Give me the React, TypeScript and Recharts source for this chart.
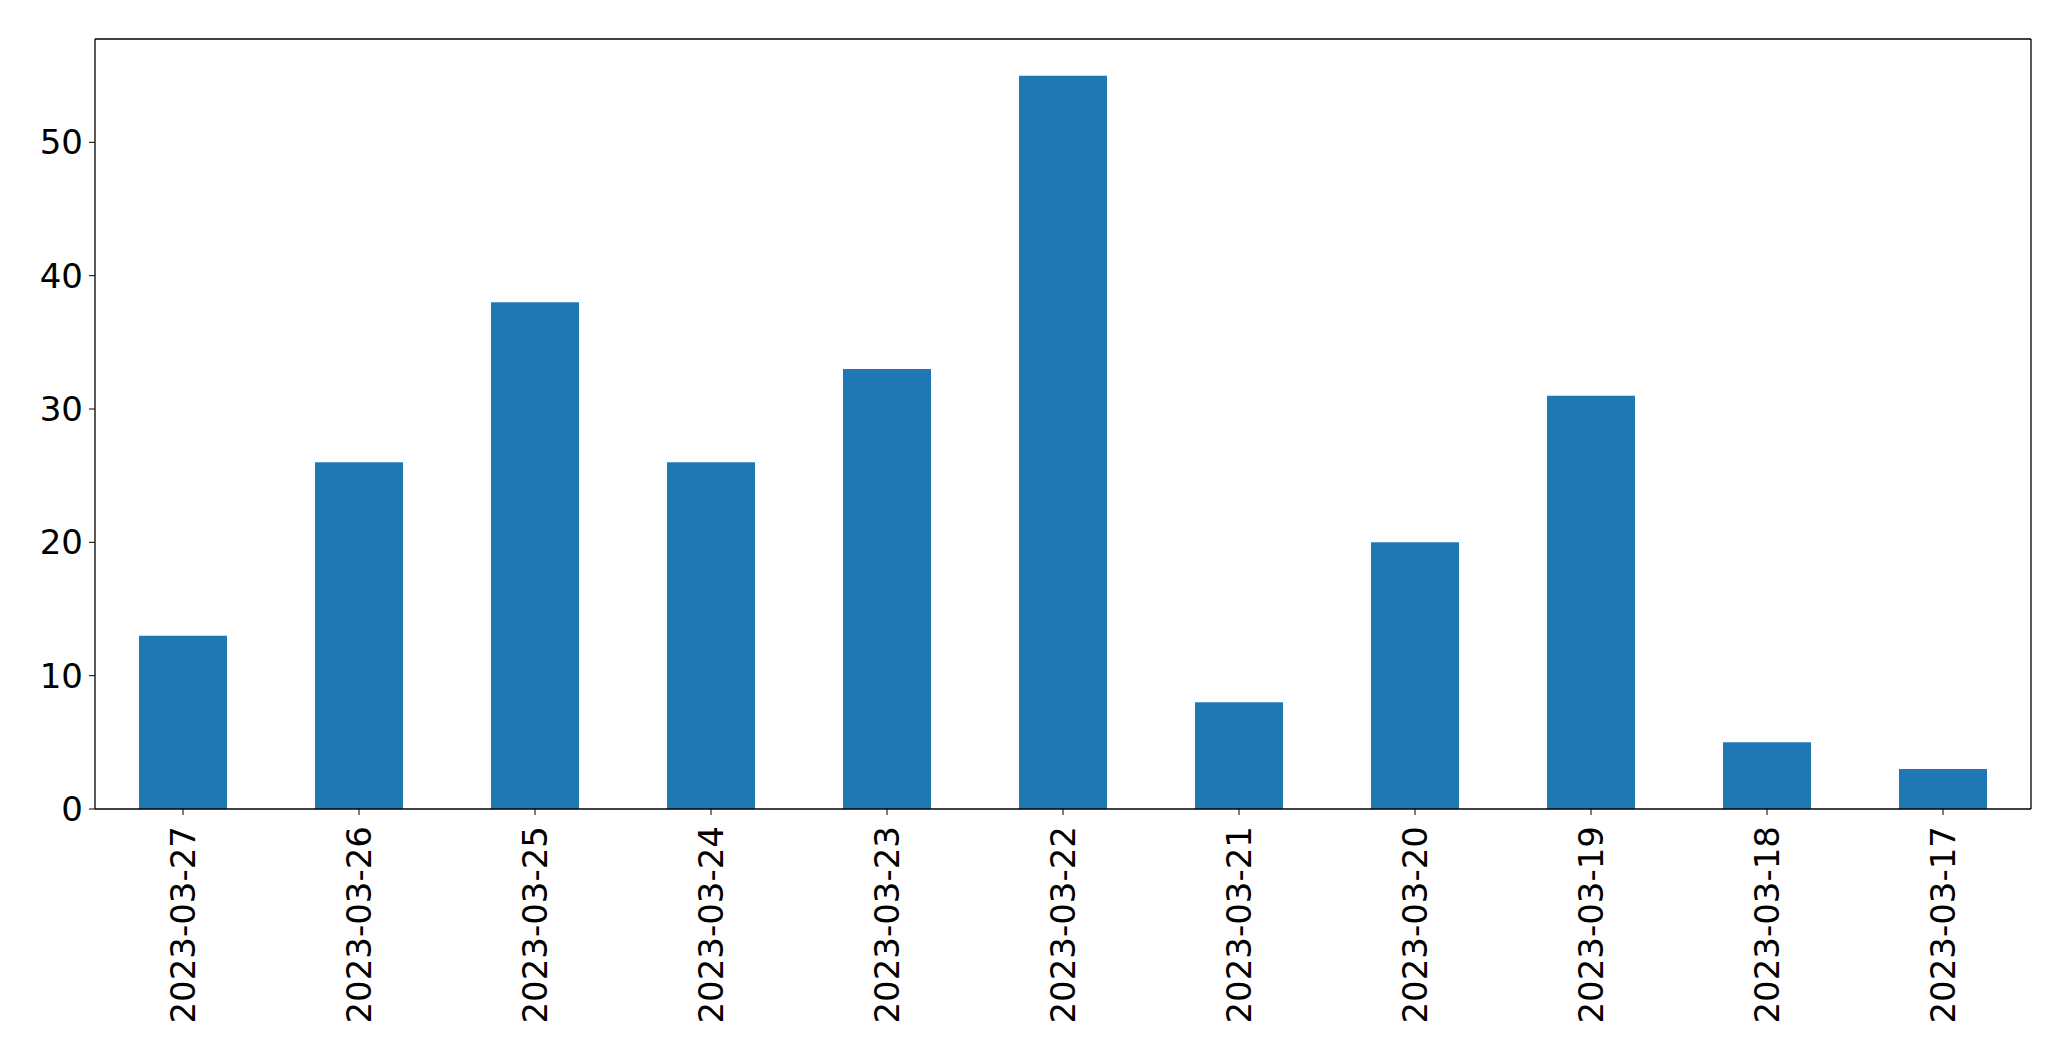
import { Bar, BarChart, XAxis, YAxis } from "recharts";

const dates = [
  "2023-03-27",
  "2023-03-26",
  "2023-03-25",
  "2023-03-24",
  "2023-03-23",
  "2023-03-22",
  "2023-03-21",
  "2023-03-20",
  "2023-03-19",
  "2023-03-18",
  "2023-03-17",
];
const counts = [13, 26, 38, 26, 33, 55, 8, 20, 31, 5, 3];
const yTicks = [0, 10, 20, 30, 40, 50];

const data = dates.map((d, i) => ({ date: d, count: counts[i] }));

const FONT = "'DejaVu Sans', sans-serif";

// rotated date labels under the x axis
function DateTick(props: any) {
  const { x, y, payload } = props;
  return (
    <text
      transform={`translate(${x},${y + 11}) rotate(-90)`}
      textAnchor="end"
      dominantBaseline="central"
      fontSize={34}
      fontFamily={FONT}
      fill="#000"
    >
      {payload.value}
    </text>
  );
}

export default function App() {
  return (
    <div style={{ position: "absolute", left: 0, top: 0, background: "#fff" }}>
      <BarChart
        width={2071}
        height={1061}
        data={data}
        barCategoryGap="25%"
        margin={{ top: 38, right: 39, bottom: 0, left: 0 }}
      >
        <XAxis
          dataKey="date"
          interval={0}
          tick={<DateTick />}
          tickSize={6}
          tickMargin={0}
          height={252}
          stroke="#000"
          tickLine={{ stroke: "#000" }}
          axisLine={{ stroke: "#000", strokeWidth: 1.3 }}
        />
        <XAxis
          xAxisId="top"
          dataKey="date"
          orientation="top"
          height={1}
          tick={false}
          tickLine={false}
          axisLine={{ stroke: "#000", strokeWidth: 1.3 }}
        />
        <YAxis
          domain={[0, 57.75]}
          ticks={yTicks}
          width={95}
          tickSize={6}
          tickMargin={6}
          stroke="#000"
          tick={{ fontSize: 34, fontFamily: FONT, fill: "#000" }}
          axisLine={{ stroke: "#000", strokeWidth: 1.3 }}
        />
        <YAxis
          yAxisId="right"
          orientation="right"
          width={1}
          domain={[0, 57.75]}
          tick={false}
          tickLine={false}
          axisLine={{ stroke: "#000", strokeWidth: 1.3 }}
        />
        <Bar dataKey="count" fill="#1f77b4" isAnimationActive={false} />
      </BarChart>
    </div>
  );
}
